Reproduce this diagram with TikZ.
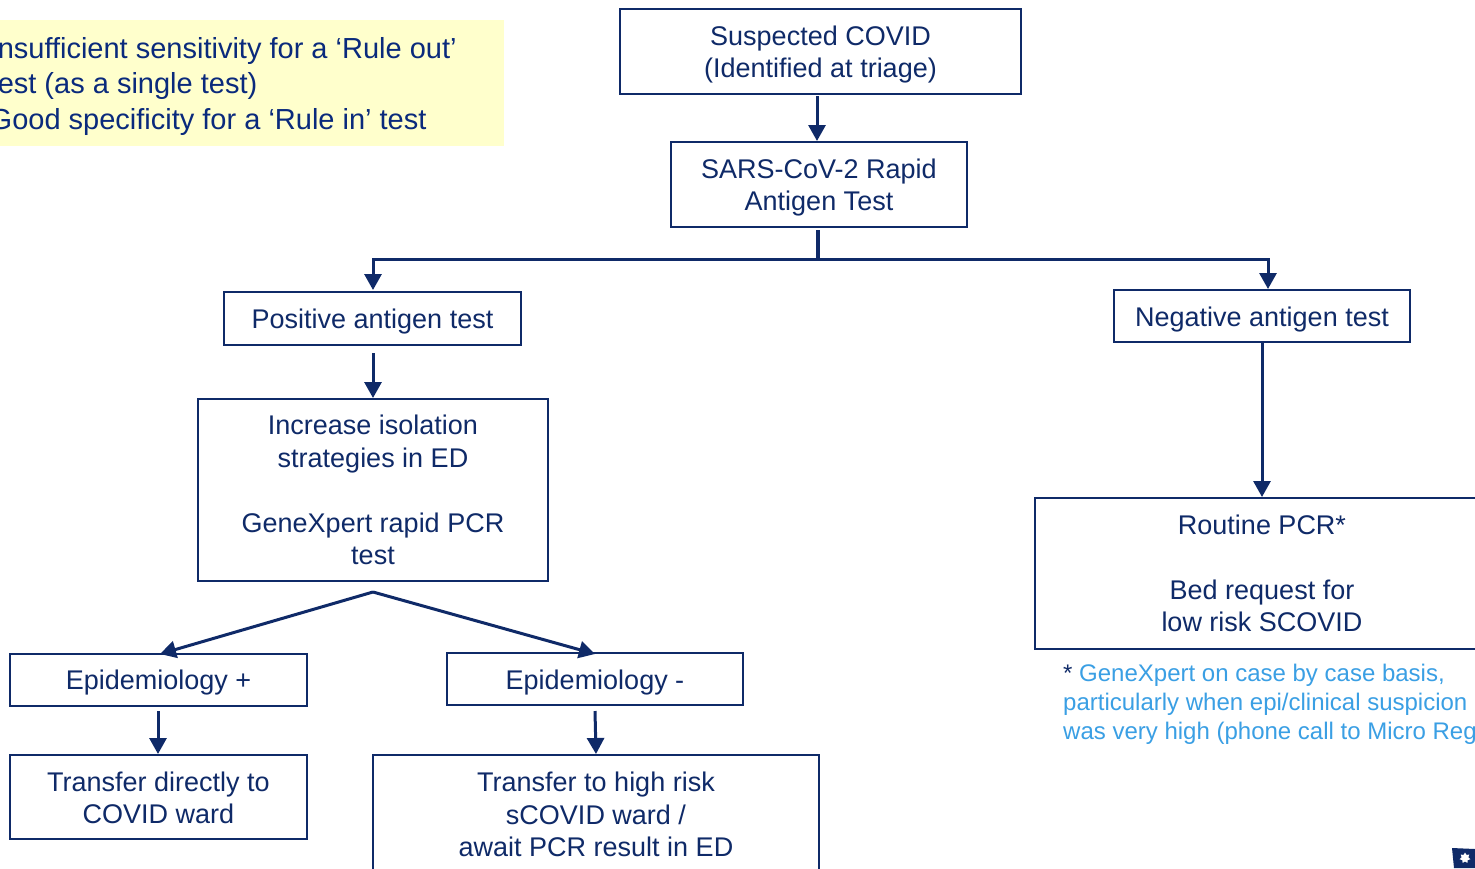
\documentclass[tikz,border=0pt]{standalone}
\usepackage{fontspec}
\setmainfont{Liberation Sans}
\usetikzlibrary{arrows.meta,shapes.geometric}
\definecolor{navy}{HTML}{0F2A68}
\definecolor{noteblue}{HTML}{0A2A7C}
\definecolor{skyblue}{HTML}{3A9FE4}
\definecolor{paleyellow}{HTML}{FFFFCC}
\tikzset{
  flowbox/.style={draw=navy,line width=1.6pt,fill=white,text=navy,align=center,inner sep=0pt,
    font=\fontsize{27}{32.5}\selectfont},
  flow/.style={draw=navy,line width=3pt,-{Triangle[width=17pt,length=16pt]}},
  trunk/.style={draw=navy,line width=4pt},
  notetext/.style={text=noteblue,align=left,inner sep=0pt,anchor=north west,font=\fontsize{29}{35.7}\selectfont},
  foottext/.style={text=skyblue,align=left,inner sep=0pt,anchor=north west,font=\fontsize{24}{29}\selectfont},
}
\newcommand{\boxat}[6]{\node[flowbox,minimum width=#4pt-#2pt,minimum height=#5pt-#3pt] (#1) at ({(#2+#4)/2},{(#3+#5)/2}) {#6};}
\newcommand{\lift}[1]{\rule{0pt}{#1pt}}
\begin{document}
\begin{tikzpicture}[x=1pt,y=-1pt]
\path[use as bounding box,clip] (0,0) rectangle (1475,868);
\fill[white] (0,0) rectangle (1475,868);
\node[fill=paleyellow,minimum width=514pt,minimum height=126pt,inner sep=0pt] (notebg) at (247,83) {};
\node[notetext] (note) at (-10.5,37) {Insufficient sensitivity for a ‘Rule out’\\test (as a single test)\\Good specificity for a ‘Rule in’ test};
\boxat{suspected}{620}{9}{1021}{94}{\lift{26}Suspected COVID\\(Identified at triage)}
\boxat{rapid}{671}{142}{967}{227}{\lift{26}SARS-CoV-2 Rapid\\Antigen Test}
\boxat{positive}{224}{292}{521}{345}{\lift{26}Positive antigen test}
\boxat{negative}{1114}{290}{1410}{342}{\lift{26}Negative antigen test}
\boxat{isolation}{198}{399}{548}{581}{Increase isolation\\strategies in ED\\[32.5pt]GeneXpert rapid PCR\\test}
\boxat{routine}{1035}{498}{1489}{649}{Routine PCR*\\[32.5pt]Bed request for\\low risk SCOVID}
\boxat{epiplus}{10}{654}{307}{706}{\lift{24}Epidemiology +}
\boxat{epiminus}{447}{653}{743}{705}{\lift{26}Epidemiology -}
\boxat{direct}{10}{755}{307}{839}{\lift{21}Transfer directly to\\COVID ward}
\boxat{highrisk}{373}{755}{819}{874}{Transfer to high risk\\sCOVID ward /\\await PCR result in ED}
\node[foottext] (foot) at (1063,664) {{\color{navy}*} GeneXpert on case by case basis,\\particularly when epi/clinical suspicion\\was very high (phone call to Micro Reg};
% connectors
\coordinate (s1) at (817,96);
\coordinate (r1) at (817,141);
\draw[flow] (s1) -- (r1);
\coordinate (branchtop) at (818,230);
\coordinate (branchmid) at (818,259);
\coordinate (branchl) at (373,259);
\coordinate (branchr) at (1268,259);
\draw[trunk] (branchtop) -- (branchmid);
\draw[flow] (branchmid) -- (branchl) -- (373,290);
\draw[flow] (branchmid) -- (branchr) -- (1268,289);
\coordinate (p1) at (373,353);
\draw[flow] (p1) -- (373,398);
\draw[flow] (1262,342) -- (1262,497);
\coordinate (apex) at (373,592);
\draw[flow] (apex) -- (160,654);
\draw[flow] (apex) -- (595,654);
\coordinate (e1) at (158,711);
\draw[flow] (e1) -- (158,754);
\coordinate (e2) at (595,711);
\draw[flow] (e2) -- (596,754);
% logo
\fill[navy] (1452,848) -- (1475,849) -- (1475,868) -- (1454,868) -- cycle;
\node[star,star points=7,star point ratio=1.6,fill=white,inner sep=0pt,minimum size=11pt] (logostar) at (1465,858) {};
\end{tikzpicture}
\end{document}
